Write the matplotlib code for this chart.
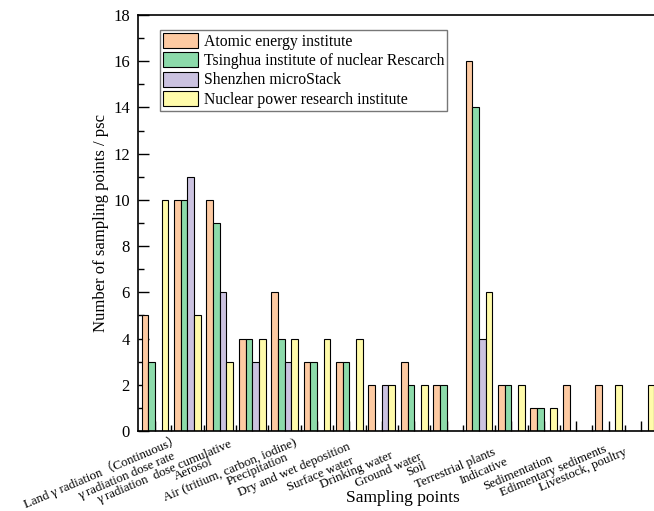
import numpy as np
import matplotlib
matplotlib.use("Agg")
import matplotlib.pyplot as plt
from matplotlib.transforms import ScaledTranslation

plt.rcParams['font.family'] = ['Liberation Serif', 'Noto Sans CJK SC', 'DejaVu Sans']

# Data

categories = [
    "Land γ radiation（Continuous）",
    "γ radiation dose rate",
    "γ radiation  dose cumulative",
    "Aerosol",
    "Air (tritium, carbon, iodine)",
    "Precipitation",
    "Dry and wet deposition",
    "Surface water",
    "Drinking water",
    "Ground water",
    "Soil",
    "Terrestrial plants",
    "Indicative",
    "Sedimentation",
    "Edimentary sediments",
    "Livestock, poultry",
]

atomic = [5, 10, 10, 4, 6, 3, 3, 2, 3, 2, 16, 2, 1, 2, 2, 0]
tsinghua = [3, 10, 9, 4, 4, 3, 3, 0, 2, 2, 14, 2, 1, 0, 0, 0]
shenzhen = [0, 11, 6, 3, 3, 0, 0, 2, 0, 0, 4, 0, 0, 0, 0, 0]
nuclear = [10, 5, 3, 4, 4, 4, 4, 2, 2, 0, 6, 2, 1, 0, 2, 2]

series_names = [
    "Atomic energy institute",
    "Tsinghua institute of nuclear Rescarch",
    "Shenzhen microStack",
    "Nuclear power research institute",
]
colors = ["#FDCAA2", "#8CDAAA", "#CBC2E0", "#FFFBAA"]

# label end shifts in pixels (labels are staggered in the original)
label_dx = [22, -15, 9, -42, 9, -32, -2, -31, -24, -28, -55, -19, -39, -26, -5, -17]
label_dy = [-1, -19, -7, -25, -5, -20, -10, -24, -19, -20, -29, -15, -25, -22, -12, -15]

# Plot

fig = plt.figure(figsize=(6.54, 5.11), dpi=100)
ax = fig.add_axes([138.3 / 654, 80 / 511, 525.7 / 654, 416 / 511])

x = np.arange(len(categories))
w = 0.206
for k, vals in enumerate([atomic, tsinghua, shenzhen, nuclear]):
    ax.bar(x + (k - 1.5) * w, vals, width=w, color=colors[k],
           edgecolor="black", linewidth=0.8, label=series_names[k], zorder=2)

ax.set_xlim(-0.515, 15.71)
ax.set_ylim(0, 18)
ax.set_yticks(np.arange(0, 19, 2))
ax.set_yticks(np.arange(1, 18, 2), minor=True)
ax.set_xticks(x)
ax.set_xticks(x[:-1] + 0.5, minor=True)
ax.set_xticklabels([])

ax.tick_params(axis="y", which="major", direction="in", length=8, width=1,
               labelsize=12, pad=6)
ax.tick_params(axis="y", which="minor", direction="in", length=4, width=1)
ax.tick_params(axis="x", which="major", direction="in", length=7, width=1)
ax.tick_params(axis="x", which="minor", direction="in", length=4, width=1)

for side in ["left", "bottom", "top"]:
    ax.spines[side].set_linewidth(1.2)
ax.spines["right"].set_visible(False)

for i, name in enumerate(categories):
    tr = ax.get_xaxis_transform() + ScaledTranslation(label_dx[i] / 100, label_dy[i] / 100, fig.dpi_scale_trans)
    ax.text(i, 0, name, transform=tr, rotation=23, rotation_mode="anchor",
            ha="right", va="top", fontsize=9.3)

ax.set_ylabel("Number of sampling points / psc", fontsize=12, labelpad=3)
fig.text(403 / 654, 1 - 498 / 511, "Sampling points", ha="center", va="center", fontsize=12.5)

leg = ax.legend(loc="upper left", bbox_to_anchor=(0.041, 0.964), fontsize=11.3,
                handlelength=2.2, handleheight=1.1, labelspacing=0.15,
                borderpad=0.2, handletextpad=0.4, borderaxespad=0,
                fancybox=False, framealpha=1, edgecolor="#777777")
leg.get_frame().set_linewidth(1)

plt.savefig("out.png", dpi=100)
